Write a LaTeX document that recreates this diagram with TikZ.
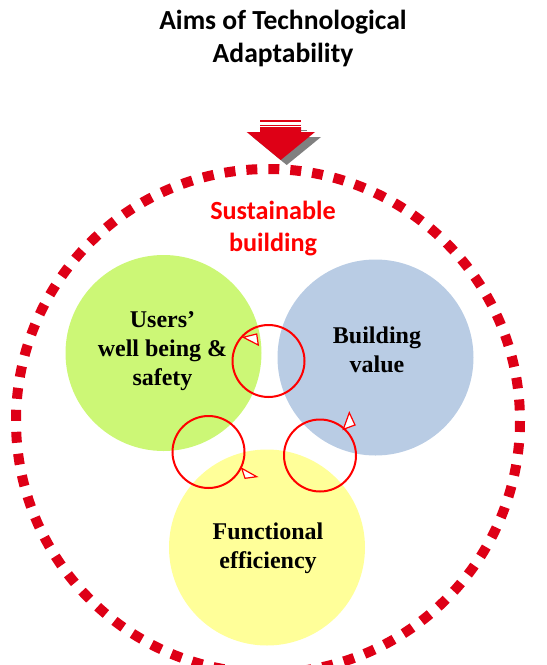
\documentclass[tikz,border=0pt]{standalone}
\usepackage{fontspec}
\newfontfamily\carlito{Carlito}
\newfontfamily\libserif{Liberation Serif}
\definecolor{darkred}{RGB}{222,0,22}
\definecolor{loopred}{RGB}{255,0,0}
\definecolor{cgreen}{RGB}{204,247,118}
\definecolor{cblue}{RGB}{185,204,228}
\definecolor{cyellow}{RGB}{255,255,153}
\definecolor{shadowgray}{RGB}{128,128,128}
\tikzset{
  aim/.style={circle, minimum size=196pt, inner sep=0pt},
  aimtext/.style={font=\libserif\bfseries\fontsize{24}{29}\selectfont, align=center, text=black},
  looparc/.style={draw=loopred, line width=2pt},
  looptip/.style={draw=loopred, fill=white, line width=1.2pt, line join=miter},
  heading/.style={font=\carlito\bfseries\fontsize{27.6}{33}\selectfont, align=center},
}
\begin{document}
\begin{tikzpicture}[x=1pt, y=-1pt]
\useasboundingbox (0,0) rectangle (547,665);
\clip (0,0) rectangle (547,665);
% title
\node[heading, text=black] (title) at (283,38) {Aims of Technological\\Adaptability};
% block arrow (shadow then red)
\begin{scope}[shift={(6,5)}]
  \fill[shadowgray] (260,124.5) rectangle (301,126);
  \fill[shadowgray] (260,127) -- (301,127) -- (301,132) -- (315,132) -- (280.7,160) -- (246.7,132) -- (260,132) -- cycle;
\end{scope}
\fill[darkred] (260,120) rectangle (301,122);
\fill[darkred] (260,124.5) rectangle (301,126);
\fill[darkred] (260,127) -- (301,127) -- (301,132) -- (315,132) -- (280.7,160) -- (246.7,132) -- (260,132) -- cycle;
% outer dashed circle
\draw[darkred, line width=10pt, dash pattern=on 11pt off 11pt] (268,421) circle[radius=252];
% aim circles
\node[aim, fill=cgreen] (users) at (163.5,353) {};
\node[aim, fill=cblue] (value) at (375.5,357.5) {};
\node[aim, fill=cyellow] (func) at (267,547.5) {};
% texts
\node[heading, text=loopred, font=\carlito\bfseries\fontsize{26.2}{32}\selectfont] (sust) at (273,229) {Sustainable\\building};
\node[aimtext] (usersT) at (162.5,351) {Users’\\well being \&\\safety};
\node[aimtext] (valueT) at (377,350) {Building\\value};
\node[aimtext] (funcT) at (268,548) {Functional\\efficiency};
% loops
\node[circle, minimum size=72pt, inner sep=0pt, looparc] (loopA) at (268.5,361) {};
\node[circle, minimum size=72pt, inner sep=0pt, looparc] (loopB) at (208.5,452) {};
\node[circle, minimum size=72pt, inner sep=0pt, looparc] (loopC) at (320,455.5) {};
\draw[looptip] (243.3,337.3) -- (256.7,334) -- (258.3,345) -- cycle;
\draw[looptip] (256.7,476.7) -- (241.7,468.3) -- (245,478.3) -- cycle;
\draw[looptip] (349.3,412.7) -- (343.3,429.3) -- (355,425) -- cycle;
\end{tikzpicture}
\end{document}
